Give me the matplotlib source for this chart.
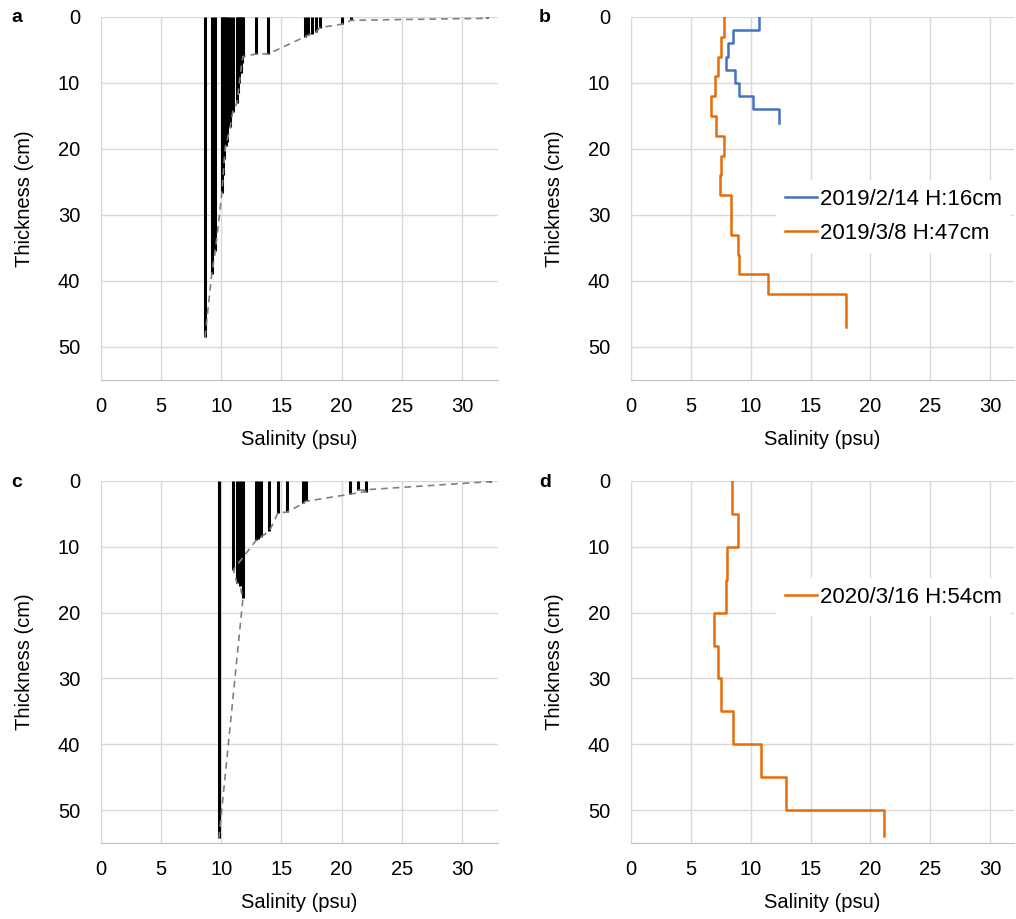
import numpy as np
import matplotlib
matplotlib.use("Agg")
import matplotlib.pyplot as plt

plt.rcParams['font.family'] = ['Liberation Sans', 'DejaVu Sans']

# panel a: salinity / depth reached by each bar (2019)
sal_a = [8.65, 9.2, 9.5, 10.05, 10.15, 10.25, 10.35, 10.45, 10.75, 10.95,
         11.3, 11.4, 11.5, 11.6, 11.7, 11.8, 12.9, 13.9,
         16.95, 17.2, 17.5, 17.9, 18.2, 20.0, 20.8, 32.1]
dep_a = [48.5, 39.0, 35.5, 26.7, 24.0, 21.5, 19.5, 19.0, 16.6, 14.4,
         13.0, 11.5, 10.0, 8.5, 7.0, 6.0, 5.6, 5.6,
         3.0, 2.8, 2.5, 2.2, 1.6, 1.1, 0.5, 0.2]

# panel c: 2020
sal_c = [9.8, 11.0, 11.3, 11.55, 11.8, 12.9, 13.05, 13.3, 14.0, 14.7, 15.5,
         16.8, 17.0, 20.7, 21.4, 22.0, 32.3]
dep_c = [54.3, 13.5, 15.5, 16.0, 17.8, 9.0, 8.8, 8.5, 7.6, 4.9, 4.7,
         3.4, 3.1, 2.0, 1.4, 1.6, 0.1]

# panel b: section salinity profiles
b1_depth = [0, 2, 4, 6, 8, 10, 12, 14, 16]
b1_sal = [10.7, 8.5, 8.1, 7.9, 8.7, 9.0, 10.2, 12.4]
b2_depth = [0, 3, 6, 9, 12, 15, 18, 21, 24, 27, 30, 33, 36, 39, 42, 47]
b2_sal = [7.77, 7.52, 7.24, 7.02, 6.68, 7.10, 7.77, 7.49, 7.45,
          8.33, 8.38, 8.96, 9.05, 11.47, 18.0]

# panel d
d_depth = [0, 5, 10, 15, 20, 25, 30, 35, 40, 45, 50, 54]
d_sal = [8.41, 8.91, 8.05, 7.94, 6.96, 7.24, 7.49, 8.55, 10.86, 12.92, 21.1]

labels_b = ['2019/2/14 H:16cm', '2019/3/8 H:47cm']
label_d = '2020/3/16 H:54cm'

blue = '#4472C4'
orange = '#E46C0A'
fs = 14.5
fs_leg = 16


def steps(depth, sal):
    # each section drawn as a vertical segment at its salinity
    xs, ys = [], []
    for i, s in enumerate(sal):
        xs += [s, s]
        ys += [depth[i], depth[i + 1]]
    return xs, ys


def style(ax, xmax):
    ax.set_xlim(0, xmax)
    ax.set_ylim(55, 0)
    ax.set_xticks(range(0, 31, 5))
    ax.set_yticks(range(0, 51, 10))
    ax.grid(True, color='#d9d9d9', lw=1)
    ax.set_axisbelow(True)
    for s in ['top', 'right']:
        ax.spines[s].set_visible(False)
    ax.spines['left'].set_color('#d9d9d9')
    ax.spines['bottom'].set_color('#bfbfbf')
    ax.tick_params(length=0, labelsize=fs, colors='black')
    ax.tick_params(axis='y', pad=15)
    ax.tick_params(axis='x', pad=12)
    ax.set_xlabel('Salinity (psu)', fontsize=fs, labelpad=10)
    ax.set_ylabel('Thickness (cm)', fontsize=fs, labelpad=17)


def bars(ax, sal, dep):
    sal = np.array(sal)
    dep = np.array(dep)
    ax.vlines(sal, 0, dep, color='black', lw=2.2, zorder=3)
    order = np.argsort(-dep, kind='stable')
    ax.plot(sal[order], dep[order], ls=(0, (4, 3)), color='#808080', lw=1.2, zorder=4)


fig = plt.figure(figsize=(10.16, 9.19), dpi=100)
W, H = 1016, 919


def axes_px(x0, y0, x1, y1):
    return fig.add_axes([x0 / W, 1 - y1 / H, (x1 - x0) / W, (y1 - y0) / H])


ax_a = axes_px(101, 17, 498, 380)
ax_b = axes_px(631, 17, 1014, 380)
ax_c = axes_px(101, 481, 498, 843)
ax_d = axes_px(631, 481, 1014, 843)

bars(ax_a, sal_a, dep_a)
style(ax_a, 33)

xs, ys = steps(b1_depth, b1_sal)
ax_b.plot(xs, ys, color=blue, lw=1.8, label=labels_b[0])
xs, ys = steps(b2_depth, b2_sal)
ax_b.plot(xs, ys, color=orange, lw=1.8, label=labels_b[1])
style(ax_b, 32)
ax_b.legend(loc='upper left', bbox_to_anchor=(0.379, 0.55), fontsize=fs_leg,
            frameon=True, facecolor='white', edgecolor='none', framealpha=1,
            handlelength=1.44, handletextpad=0.14, labelspacing=0.58,
            borderaxespad=0, fancybox=False)

bars(ax_c, sal_c, dep_c)
style(ax_c, 33)

xs, ys = steps(d_depth, d_sal)
ax_d.plot(xs, ys, color=orange, lw=1.8, label=label_d)
style(ax_d, 32)
ax_d.legend(loc='upper left', bbox_to_anchor=(0.379, 0.733), fontsize=fs_leg,
            frameon=True, facecolor='white', edgecolor='none', framealpha=1,
            handlelength=1.44, handletextpad=0.14, borderaxespad=0, fancybox=False)

for letter, x, y in [('a', 17, 17), ('b', 545, 17), ('c', 17, 483), ('d', 545, 483)]:
    fig.text(x / W, 1 - y / H, letter, fontsize=14, fontweight='bold',
             ha='center', va='center')

fig.savefig('out.png', dpi=100)
